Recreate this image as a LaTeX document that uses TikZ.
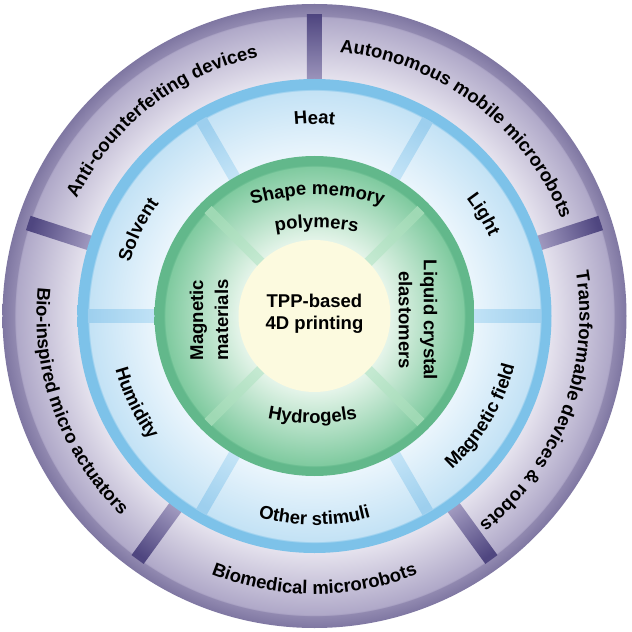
\documentclass[tikz,border=0pt]{standalone}
\usepackage{fontspec}
\setmainfont{Liberation Sans}
\usetikzlibrary{calc}
\usetikzlibrary{decorations.text}

\definecolor{purpleEdge}{HTML}{9189B0}
\definecolor{purpleEdgeOut}{HTML}{7F77A2}
\definecolor{purpleDark}{HTML}{AFA8C8}
\definecolor{purpleLight}{HTML}{E6E3EE}
\definecolor{purpleBarOut}{HTML}{4F4680}
\definecolor{purpleBarIn}{HTML}{A39CC1}
\definecolor{blueEdge}{HTML}{7DC2E9}
\definecolor{blueDark}{HTML}{C3E2F5}
\definecolor{blueLight}{HTML}{EAF5FC}
\definecolor{blueBarOut}{HTML}{9DCFEE}
\definecolor{blueBarIn}{HTML}{C6E5F7}
\definecolor{greenEdge}{HTML}{62B88B}
\definecolor{greenDark}{HTML}{7FCA9F}
\definecolor{greenLight}{HTML}{E4F4E9}
\definecolor{greenBarOut}{HTML}{9FD9B4}
\definecolor{greenBarIn}{HTML}{C4E9D1}
\definecolor{cream}{HTML}{FCFADF}

\pgfdeclareradialshading{purplering}{\pgfpoint{0bp}{0bp}}{%
  color(0bp)=(purpleLight); color(18.9bp)=(purpleLight); color(23.95bp)=(purpleDark);
  color(24.05bp)=(purpleEdge); color(25bp)=(purpleEdgeOut); color(50bp)=(purpleEdgeOut)}
\pgfdeclareradialshading{bluering}{\pgfpoint{0bp}{0bp}}{%
  color(0bp)=(blueLight); color(16.9bp)=(blueLight); color(23.8bp)=(blueDark);
  color(23.9bp)=(blueEdge); color(25bp)=(blueEdge); color(50bp)=(blueEdge)}
\pgfdeclareradialshading{greenring}{\pgfpoint{0bp}{0bp}}{%
  color(0bp)=(greenLight); color(11.9bp)=(greenLight); color(23.4bp)=(greenDark);
  color(23.5bp)=(greenEdge); color(25bp)=(greenEdge); color(50bp)=(greenEdge)}

\newcommand{\labfont}{\fontsize{18.5}{25}\selectfont\bfseries}

\tikzset{
    arclabel/.style={decorate, decoration={text along path, text align=center, text={|\labfont|#1}}},
    flatlabel/.style={font=\labfont, align=center, inner sep=0pt},
}
\tikzset{
    spokeA/.style={bottom color=purpleBarIn, top color=purpleBarOut},
    spokeB/.style={bottom color=blueBarIn, top color=blueBarOut},
    spokeC/.style={bottom color=greenBarIn, top color=greenBarOut},
}

\begin{document}
\begin{tikzpicture}[x=1pt,y=1pt]
    \path[use as bounding box, fill=white] (-314.5,-316) rectangle (317.5,316);
    % applications
    \shade[shading=purplering] (0,0) circle[radius=312];
    \foreach \a [evaluate=\a as \s using \a-90] in {18,90,162,234,306}
        \shade[spokeA, shading angle=\s]
            ($(\a:230)!7.5pt!90:(\a:301)$) -- ($(\a:301)!7.5pt!-90:(\a:230)$)
            -- ($(\a:301)!7.5pt!90:(\a:230)$) -- ($(\a:230)!7.5pt!-90:(\a:301)$) -- cycle;
    % stimuli
    \shade[shading=bluering] (0,0) circle[radius=237];
    \foreach \a [evaluate=\a as \s using \a-90] in {0,60,...,300}
        \shade[spokeB, shading angle=\s]
            ($(\a:150)!6pt!90:(\a:226.5)$) -- ($(\a:226.5)!6pt!-90:(\a:150)$)
            -- ($(\a:226.5)!6pt!90:(\a:150)$) -- ($(\a:150)!6pt!-90:(\a:226.5)$) -- cycle;
    % materials
    \shade[shading=greenring] (0,0) circle[radius=160];
    \foreach \a [evaluate=\a as \s using \a-90] in {45,135,225,315}
        \shade[spokeC, shading angle=\s]
            ($(\a:70)!5pt!90:(\a:150.5)$) -- ($(\a:150.5)!5pt!-90:(\a:70)$)
            -- ($(\a:150.5)!5pt!90:(\a:70)$) -- ($(\a:70)!5pt!-90:(\a:150.5)$) -- cycle;
    \fill[cream] (0,0) circle[radius=76];

    \node[flatlabel, font=\fontsize{18.5}{22}\selectfont\bfseries] (core) at (0,2) {TPP-based\\4D printing};

    \path[arclabel={Shape memory}] ([shift={(3,-99)}]125:220) arc[start angle=125, end angle=55, radius=220];
    \path[arclabel={polymers}] ([shift={(2,-132)}]115:220) arc[start angle=115, end angle=65, radius=220];
    \path[arclabel={Hydrogels}] ([shift={(-2,113)}]235:220) arc[start angle=235, end angle=305, radius=220];
    \node[flatlabel, rotate=-90] (lce) at (103.5,-4) {Liquid crystal\\elastomers};
    \node[flatlabel, rotate=90] (mag) at (-105.5,-4) {Magnetic\\materials};

    \path[arclabel={Heat}] (120:192) arc[start angle=120, end angle=60, radius=192];
    \path[arclabel={Light}] (61:192) arc[start angle=61, end angle=1, radius=192];
    \path[arclabel={Solvent}] (184:192) arc[start angle=184, end angle=124, radius=192];
    \path[arclabel={Humidity}] (176:206) arc[start angle=176, end angle=236, radius=206];
    \path[arclabel={Other stimuli}] (240:209) arc[start angle=240, end angle=300, radius=209];
    \path[arclabel={Magnetic field}] (-61:206) arc[start angle=-61, end angle=-1, radius=206];

    \path[arclabel={Anti-counterfeiting devices}] (178:265) arc[start angle=178, end angle=78, radius=265];
    \path[arclabel={Autonomous mobile microrobots}] (103:265) arc[start angle=103, end angle=3, radius=265];
    \path[arclabel={Transformable devices {\&} robots}] (29:265) arc[start angle=29, end angle=-71, radius=265];
    \path[arclabel={Biomedical microrobots}] (220:278) arc[start angle=220, end angle=320, radius=278];
    \path[arclabel={Bio-inspired micro actuators}] (150:278) arc[start angle=150, end angle=250, radius=278];
\end{tikzpicture}
\end{document}
